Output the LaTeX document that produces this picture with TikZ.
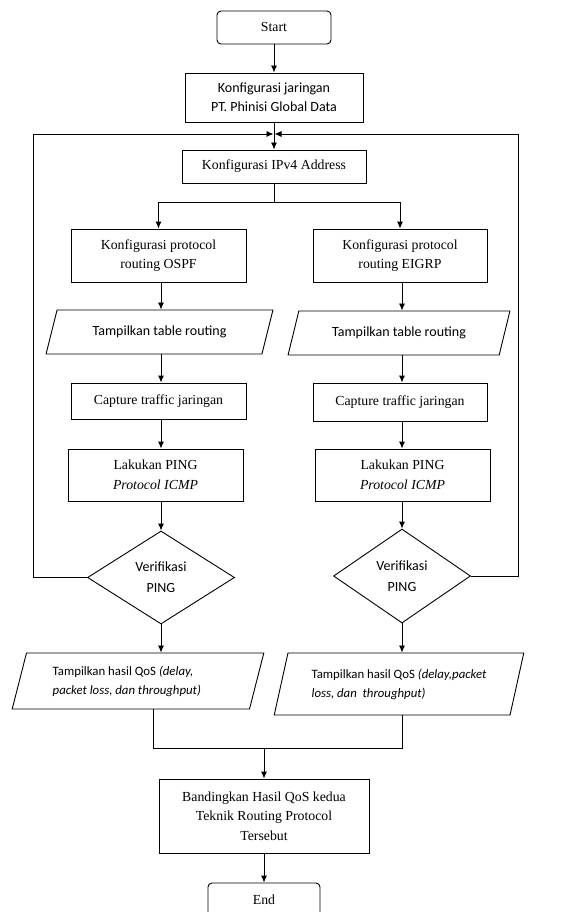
\documentclass[tikz,border=0pt]{standalone}
\usepackage{fontspec}
\setmainfont{Liberation Serif}
\newfontfamily\calibfont{Carlito}
\usetikzlibrary{shapes.geometric,arrows.meta}
\begin{document}
\begin{tikzpicture}[x=1pt,y=-1pt,
  every node/.style={inner sep=0pt, align=center},
  box/.style={draw, line width=0.9pt, rectangle, font=\fontsize{13.8}{19.5}\selectfont},
  sbox/.style={draw, line width=0.9pt, rectangle, font=\calibfont\fontsize{14}{19}\selectfont},
  term/.style={box, rounded corners=4pt},
  para/.style={draw, line width=0.9pt, trapezium, trapezium stretches=true, font=\calibfont\fontsize{14}{19}\selectfont},
  dec/.style={draw, line width=0.9pt, diamond, font=\calibfont\fontsize{14}{21}\selectfont},
  arr/.style={line width=0.9pt, -{Latex[length=7pt,width=6pt]}},
  ln/.style={line width=0.9pt}
]
\useasboundingbox (0,0) rectangle (575,912);
\clip (0,0) rectangle (575,912);

\coordinate (cl) at (161,0);
\coordinate (cr) at (402,0);
\coordinate (lx) at (33,0);
\coordinate (rx) at (518,0);
\coordinate (ml) at (153,0);
\coordinate (lp) at (274,134);
\coordinate (sp) at (274,202);
\coordinate (mg) at (264,748);

\node[term, minimum width=114pt, minimum height=33pt] (start) at (274,27.5) {Start};
\node[sbox, minimum width=178pt, minimum height=49pt] (konf) at (274,97.5) {Konfigurasi jaringan\\PT. Phinisi Global Data};
\node[box, minimum width=184pt, minimum height=33pt] (ipv4) at (274,166.5) {Konfigurasi IPv4 Address};

\node[box, minimum width=175pt, minimum height=53pt] (ospf) at (158.5,255.5) {Konfigurasi protocol\\routing OSPF};
\node[box, minimum width=174pt, minimum height=53pt] (eigrp) at (400,255.5) {Konfigurasi protocol\\routing EIGRP};

\node[para, trapezium left angle=59.4, trapezium right angle=120.6, minimum width=227pt, minimum height=44pt] (tabL) at (159.5,332) {Tampilkan table routing};
\node[para, trapezium left angle=59.4, trapezium right angle=120.6, minimum width=222pt, minimum height=44pt] (tabR) at (399,333) {Tampilkan table routing};

\node[box, minimum width=175pt, minimum height=36pt] (capL) at (158.5,401) {Capture traffic jaringan};
\node[box, minimum width=174pt, minimum height=38pt] (capR) at (400,402) {Capture traffic jaringan};

\node[box, minimum width=175pt, minimum height=52pt] (pingL) at (155.5,475) {Lakukan PING\\\textit{Protocol ICMP}};
\node[box, minimum width=175pt, minimum height=52pt] (pingR) at (402.5,475) {Lakukan PING\\\textit{Protocol ICMP}};

\node[dec, minimum width=147pt, minimum height=93pt] (verL) at (161,577.5) {Verifikasi\\PING};
\node[dec, minimum width=137pt, minimum height=94pt] (verR) at (402,576) {Verifikasi\\PING};

\node[para, align=left, trapezium left angle=70.3, trapezium right angle=109.7, minimum width=252pt, minimum height=56pt, font=\calibfont\fontsize{12.8}{19}\selectfont] (qosL) at (138,681) {Tampilkan hasil QoS \textit{(delay,}\hspace*{30pt}\\\textit{packet loss, dan throughput)}};
\node[para, align=left, trapezium left angle=70.5, trapezium right angle=109.5, minimum width=250pt, minimum height=62pt, font=\calibfont\fontsize{12.8}{19}\selectfont] (qosR) at (399,684) {Tampilkan hasil QoS \textit{(delay,packet}\\\textit{loss, dan\ \ throughput)}};

\node[box, minimum width=210pt, minimum height=74pt] (band) at (264,816) {Bandingkan Hasil QoS kedua\\Teknik Routing Protocol\\Tersebut};
\node[term, minimum width=112pt, minimum height=33pt] (end) at (264,899.5) {End};

% connectors
\draw[arr] (start.south) -- (konf.north);
\draw[arr] (konf.south) -- (ipv4.north);
\draw[arr] (verL.west) -| (lx |- lp) -- ([xshift=-0.5pt]lp);
\draw[arr] (verR.east) -| (rx |- lp) -- ([xshift=0.5pt]lp);
\draw[ln] (ipv4.south) -- (sp);
\draw[arr] (sp) -| (ospf.north);
\draw[arr] (sp) -| (eigrp.north);

\draw[arr] (cl |- ospf.south) -- (cl |- tabL.north);
\draw[arr] (cl |- tabL.south) -- (cl |- capL.north);
\draw[arr] (cl |- capL.south) -- (cl |- pingL.north);
\draw[arr] (cl |- pingL.south) -- (verL.north);
\draw[arr] (verL.south) -- (cl |- qosL.north);

\draw[arr] (cr |- eigrp.south) -- (cr |- tabR.north);
\draw[arr] (cr |- tabR.south) -- (cr |- capR.north);
\draw[arr] (cr |- capR.south) -- (cr |- pingR.north);
\draw[arr] (cr |- pingR.south) -- (verR.north);
\draw[arr] (verR.south) -- (cr |- qosR.north);

\draw[ln] (ml |- qosL.south) |- (mg);
\draw[ln] (cr |- qosR.south) |- (mg);
\draw[arr] (mg) -- (band.north);
\draw[arr] (band.south) -- (end.north);
\end{tikzpicture}
\end{document}
